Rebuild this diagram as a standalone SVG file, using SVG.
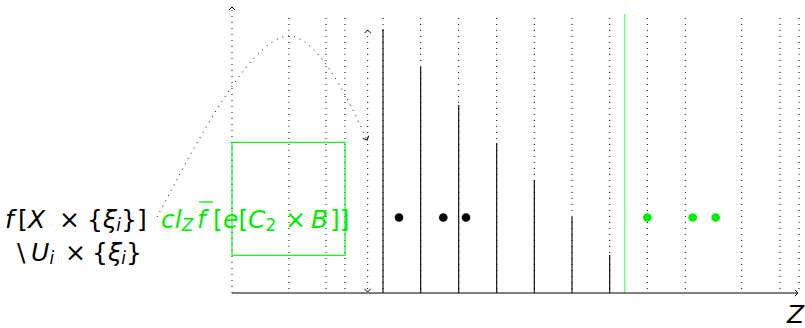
<svg xmlns="http://www.w3.org/2000/svg" width="805" height="328" viewBox="0 0 805 328">
<defs>
<marker id="ah" viewBox="-4 -4 5 8" markerWidth="5" markerHeight="8" refX="0" refY="0" orient="auto-start-reverse" markerUnits="userSpaceOnUse">
<path d="M-3.2,-3.2 L0,0 L-3.2,3.2" fill="none" stroke="#000" stroke-width="1"/>
</marker>
<style>
.dot{stroke:#000;stroke-width:1;stroke-dasharray:1 5;fill:none}
.sol{stroke:#000;stroke-width:1.1;fill:none}
.t{font-family:"DejaVu Sans",sans-serif;font-size:25px}
.i{font-style:italic}
.s{font-size:17px}
.g{fill:#00ee00}
</style>
</defs>
<rect width="805" height="328" fill="#fff"/>
<g id="connectors">
<g id="grid">
<line class="dot" x1="289" y1="18" x2="289" y2="293"/>
<line class="dot" x1="326" y1="18" x2="326" y2="293"/>
<line class="dot" x1="345" y1="18" x2="345" y2="293"/>
<line class="dot" x1="383" y1="18" x2="383" y2="293"/>
<line class="dot" x1="420.7" y1="18" x2="420.7" y2="293"/>
<line class="dot" x1="458.7" y1="18" x2="458.7" y2="293"/>
<line class="dot" x1="496.7" y1="18" x2="496.7" y2="293"/>
<line class="dot" x1="534.3" y1="18" x2="534.3" y2="293"/>
<line class="dot" x1="572" y1="18" x2="572" y2="293"/>
<line class="dot" x1="609.7" y1="18" x2="609.7" y2="293"/>
<line class="dot" x1="647.3" y1="18" x2="647.3" y2="293"/>
<line class="dot" x1="685.3" y1="18" x2="685.3" y2="293"/>
<line class="dot" x1="741.7" y1="18" x2="741.7" y2="293"/>
<line class="dot" x1="780" y1="18" x2="780" y2="293"/>
<line class="dot" x1="799" y1="18" x2="799" y2="293"/>
</g>
<g id="bars">
<line class="sol" x1="383" y1="29" x2="383" y2="293"/>
<line class="sol" x1="420.7" y1="67" x2="420.7" y2="293"/>
<line class="sol" x1="458.7" y1="105" x2="458.7" y2="293"/>
<line class="sol" x1="496.7" y1="143" x2="496.7" y2="293"/>
<line class="sol" x1="534.3" y1="180" x2="534.3" y2="293"/>
<line class="sol" x1="572" y1="217" x2="572" y2="293"/>
<line class="sol" x1="609.7" y1="255" x2="609.7" y2="293"/>
</g>
<line id="green-line" x1="624.7" y1="14" x2="624.7" y2="293" stroke="#77ff77" stroke-width="1.6"/>
<line id="y-axis" class="dot" x1="232" y1="293" x2="232" y2="7" marker-end="url(#ah)"/>
<line id="x-axis" x1="232" y1="293" x2="798" y2="293" stroke="#000" stroke-width="1.2" marker-end="url(#ah)"/>
<line id="double-arrow" class="dot" x1="367.7" y1="30" x2="367.7" y2="292" marker-start="url(#ah)" marker-end="url(#ah)"/>
<path id="curve" class="dot" d="M157,217 C190,155 250,36 289,36 C315,36 345,90 367,140" marker-end="url(#ah)"/>
</g>
<g id="green-box">
<rect x="232" y="142.3" width="113" height="113" fill="none" stroke="#00ee00" stroke-width="1.1"/>
</g>
<g id="dots">
<circle cx="399" cy="217.5" r="4.3" fill="#000"/>
<circle cx="443.3" cy="217.5" r="4.3" fill="#000"/>
<circle cx="466" cy="217.5" r="4.3" fill="#000"/>
<circle cx="647.3" cy="217.5" r="4.3" fill="#00ee00"/>
<circle cx="692.7" cy="217.5" r="4.3" fill="#00ee00"/>
<circle cx="715.7" cy="217.5" r="4.3" fill="#00ee00"/>
</g>
<g id="label-left">
<text class="t" y="228"><tspan class="i" x="5">f</tspan><tspan x="18">[</tspan><tspan class="i" x="28">X</tspan><tspan x="59">×</tspan><tspan x="87">{</tspan><tspan class="i" x="103">ξ</tspan><tspan class="i s" x="116.3" dy="3">i</tspan><tspan x="121" dy="-3">}</tspan><tspan x="137">]</tspan></text>
<text class="t" y="261"><tspan x="17">\</tspan><tspan class="i" x="31">U</tspan><tspan class="i s" x="49.5" dy="3">i</tspan><tspan x="65" dy="-3">×</tspan><tspan x="92">{</tspan><tspan class="i" x="108">ξ</tspan><tspan class="i s" x="121.3" dy="3">i</tspan><tspan x="126" dy="-3">}</tspan></text>
</g>
<g id="label-green">
<text class="t g" y="228"><tspan class="i" x="161">cl</tspan><tspan class="i s" x="181.7" dy="3">Z</tspan><tspan class="i" x="197" dy="-3">f</tspan><tspan x="213">[</tspan><tspan class="i" x="223">e</tspan><tspan x="238.4">[</tspan><tspan class="i" x="248">C</tspan><tspan class="s" x="265.5" dy="3">2</tspan><tspan x="285" dy="-3">×</tspan><tspan class="i" x="311">B</tspan><tspan x="330">]]</tspan></text>
<line x1="199" y1="202" x2="213" y2="202" stroke="#00ee00" stroke-width="1.3"/>
</g>
<g id="label-z">
<text class="t i" x="787" y="323" font-size="28">Z</text>
</g>
</svg>
